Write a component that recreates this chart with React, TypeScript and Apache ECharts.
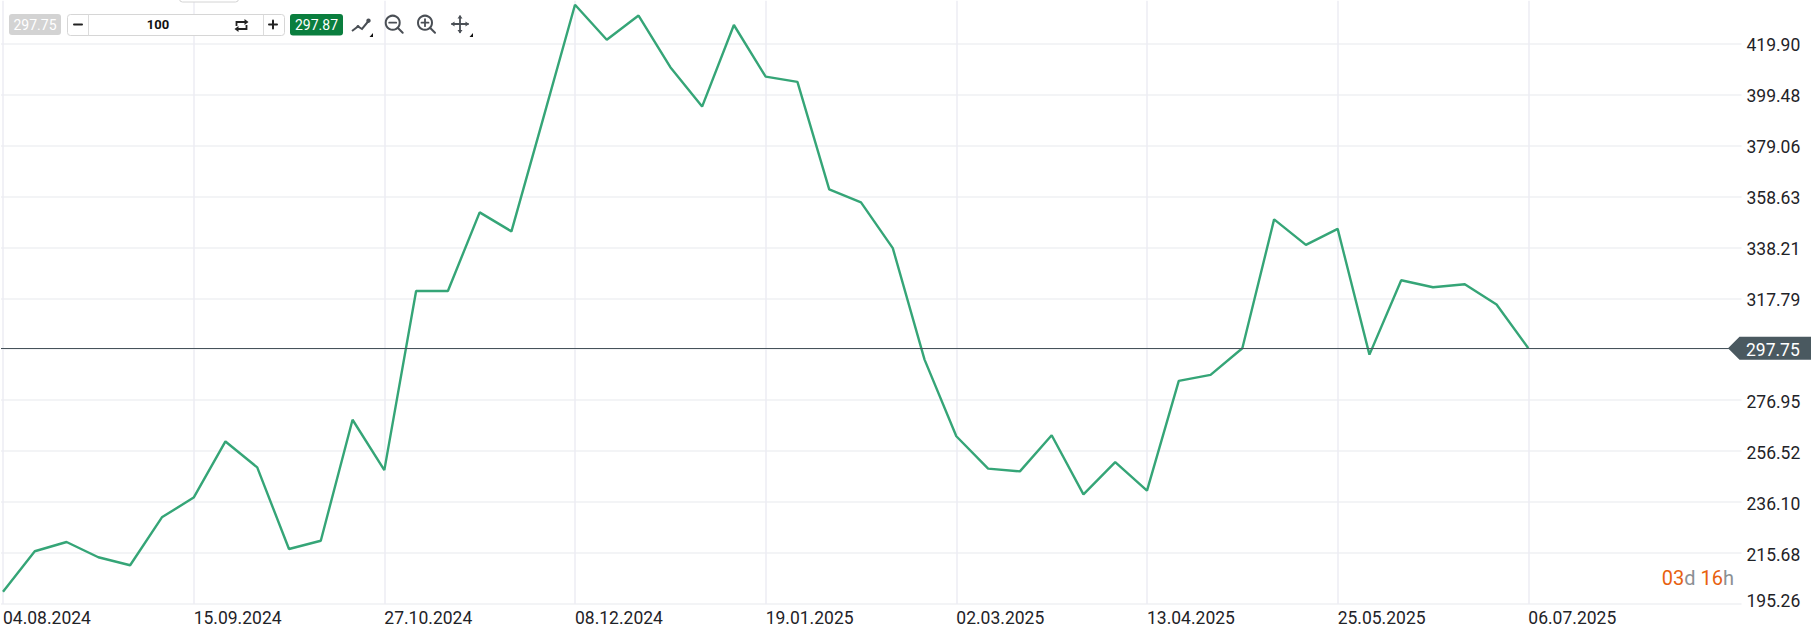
import React, { useEffect, useRef } from "react";
import * as echarts from "echarts";

const closes = [
  200.2, 216.4, 220.1, 214.0, 210.8, 230.0, 237.9, 260.4, 250.0, 217.3, 220.6, 269.1, 248.9,
  320.7, 320.7, 352.2, 344.6, 389.9, 435.4, 421.4, 431.1, 410.4, 394.6, 427.3, 406.6, 404.5,
  361.4, 356.2, 337.9, 293.2, 262.5, 249.5, 248.4, 262.9, 239.2, 252.1, 240.7, 284.7, 287.1,
  297.75, 349.4, 339.2, 345.6, 295.2, 325.0, 322.2, 323.4, 315.3, 297.75,
];
const xTickWeeks = [0, 6, 12, 18, 24, 30, 36, 42, 48];
const xTickLabels = [
  "04.08.2024", "15.09.2024", "27.10.2024", "08.12.2024", "19.01.2025",
  "02.03.2025", "13.04.2025", "25.05.2025", "06.07.2025",
];
const yGridValues = [195.26, 215.68, 236.1, 256.52, 276.95, 297.37, 317.79, 338.21, 358.63, 379.06, 399.48, 419.9];
const yLabelValues = [195.26, 215.68, 236.1, 256.52, 276.95, 317.79, 338.21, 358.63, 379.06, 399.48, 419.9];
const lastPrice = 297.75;
const bidText = "297.75";
const askText = "297.87";
const quantityText = "100";

const FONT = "Roboto, sans-serif";
const TEXT = "#1f2328";
const ICON = "#4a4f55";

const Z = { z: 100, silent: true };

function txt(text: string, x: number, y: number, fill: string, size: number, weight = 400, align = "center") {
  return {
    type: "text", ...Z,
    style: { text, x, y, fill, font: `${weight} ${size}px ${FONT}`, textAlign: align, textVerticalAlign: "middle" },
  };
}
function ln(x1: number, y1: number, x2: number, y2: number, color = ICON, width = 2) {
  return { type: "line", ...Z, shape: { x1, y1, x2, y2 }, style: { stroke: color, lineWidth: width, lineCap: "round" } };
}
function poly(points: number[][], fill = ICON) {
  return { type: "polygon", ...Z, shape: { points }, style: { fill } };
}
function pl(points: number[][], color = ICON, width = 2) {
  return { type: "polyline", ...Z, shape: { points }, style: { stroke: color, lineWidth: width, fill: "none" } };
}
function box(x: number, y: number, width: number, height: number, fill: string, stroke?: string, r = 3) {
  return {
    type: "rect", ...Z,
    shape: { x, y, width, height, r },
    style: { fill, stroke: stroke ?? "none", lineWidth: stroke ? 1 : 0 },
  };
}
function magnifier(cx: number, cy: number, plus: boolean) {
  const items: any[] = [
    { type: "circle", ...Z, shape: { cx, cy, r: 7 }, style: { stroke: ICON, lineWidth: 2, fill: "none" } },
    ln(cx + 5, cy + 5, cx + 10, cy + 10),
    ln(cx - 3.5, cy, cx + 3.5, cy, ICON, 1.8),
  ];
  if (plus) items.push(ln(cx, cy - 3.5, cx, cy + 3.5, ICON, 1.8));
  return items;
}

function toolbar(): any[] {
  return [
    box(179.5, -6, 59, 8, "#fff", "#d4d4d4"),
    box(9, 14, 52, 21, "#d3d3d3"),
    txt(bidText, 35, 25, "#fff", 14),
    box(67.5, 14.5, 217, 21, "#fff", "#d6d6d6"),
    ln(88.5, 15, 88.5, 35, "#dcdcdc", 1),
    ln(263.5, 15, 263.5, 35, "#dcdcdc", 1),
    ln(74, 24.5, 82, 24.5, "#222", 2),
    txt(quantityText, 158, 24.5, "#111", 13, 700),
    pl([[236.5, 26], [236.5, 22], [245, 22]], "#222", 1.8),
    poly([[244.5, 19], [248.5, 22], [244.5, 25]], "#222"),
    pl([[246.5, 25], [246.5, 29], [238, 29]], "#222", 1.8),
    poly([[238.5, 26], [234.5, 29], [238.5, 32]], "#222"),
    ln(269, 24.5, 277, 24.5, "#222", 2),
    ln(273, 20.5, 273, 28.5, "#222", 2),
    box(290, 14, 53, 21.5, "#0a7e3e"),
    txt(askText, 316.5, 25, "#fff", 14),
    pl([[352, 31], [358, 26.5], [362, 29], [368.5, 21]], ICON, 2),
    { type: "circle", ...Z, shape: { cx: 368.5, cy: 20.7, r: 2.2 }, style: { fill: ICON } },
    { type: "circle", ...Z, shape: { cx: 358, cy: 26.5, r: 1.5 }, style: { fill: ICON } },
    poly([[373, 33], [373, 37], [369.5, 37]], "#111"),
    ...magnifier(392.7, 22.7, false),
    ...magnifier(425, 22.7, true),
    ln(452, 24, 468, 24, ICON, 1.8),
    ln(460, 16.5, 460, 32, ICON, 1.8),
    poly([[460, 15], [457.5, 18.5], [462.5, 18.5]]),
    poly([[460, 33.5], [457.5, 30], [462.5, 30]]),
    poly([[451, 24], [454.5, 21.5], [454.5, 26.5]]),
    poly([[469, 24], [465.5, 21.5], [465.5, 26.5]]),
    poly([[473, 33], [473, 37], [469.5, 37]], "#111"),
  ];
}

export default function App() {
  const ref = useRef<HTMLDivElement>(null);
  useEffect(() => {
    document.body.style.margin = "0";
    document.body.style.background = "#fff";
    const chart = echarts.init(ref.current!, undefined, { renderer: "svg" });
    chart.setOption({
      animation: false,
      backgroundColor: "#ffffff",
      textStyle: { fontFamily: FONT },
      grid: { left: 0, right: 69.5, top: 0.7, height: 606.3, containLabel: false },
      xAxis: {
        type: "value",
        min: -0.0629,
        max: 54.708,
        axisLine: { show: false },
        axisTick: { show: false, customValues: xTickWeeks },
        splitLine: { show: true, lineStyle: { color: "#ecedf3", width: 1.5 } },
        axisLabel: {
          customValues: xTickWeeks,
          align: "left",
          margin: 5,
          fontSize: 17.5,
          fontFamily: FONT,
          color: TEXT,
          formatter: (v: number) => xTickLabels[xTickWeeks.indexOf(Math.round(v))] ?? "",
        },
      },
      yAxis: {
        type: "value",
        position: "right",
        min: 195.26,
        max: 437.04,
        axisLine: { show: false },
        axisTick: { show: false, customValues: yGridValues },
        splitLine: { show: true, lineStyle: { color: "#eff0f3", width: 1.5 } },
        axisLabel: {
          customValues: yLabelValues,
          margin: 5,
          fontSize: 17.5,
          fontFamily: FONT,
          color: TEXT,
          formatter: (v: number) => (v === yLabelValues[0] ? `{low|${v.toFixed(2)}}` : `{mid|${v.toFixed(2)}}`),
          rich: {
            low: { fontSize: 17.5, fontFamily: FONT, color: TEXT, padding: [0, 0, 7, 0] },
            mid: { fontSize: 17.5, fontFamily: FONT, color: TEXT, padding: [3, 0, 0, 0] },
          },
        },
      },
      series: [
        {
          type: "line",
          data: closes.map((v, i) => [i, v]),
          showSymbol: false,
          symbol: "none",
          clip: false,
          lineStyle: { color: "#35a577", width: 2.4 },
          markLine: {
            silent: true,
            symbol: "none",
            label: { show: false },
            lineStyle: { color: "#46525a", width: 1, type: "solid" },
            data: [{ yAxis: lastPrice }],
          },
        },
      ],
    });
    const tagY = chart.convertToPixel({ yAxisIndex: 0 }, lastPrice) as number;
    chart.setOption({
      graphic: {
        elements: [
          ...toolbar(),
          poly(
            [[1728, tagY], [1739.5, tagY - 11.5], [1811, tagY - 11.5], [1811, tagY + 11.5], [1739.5, tagY + 11.5]],
            "#4a5960",
          ),
          txt(lastPrice.toFixed(2), 1746, tagY + 1.5, "#ffffff", 17.5, 400, "left"),
          {
            type: "text",
            ...Z,
            style: {
              x: 1734,
              y: 578,
              textAlign: "right",
              textVerticalAlign: "middle",
              text: "{o|03}{g|d} {o|16}{g|h}",
              font: `400 20px ${FONT}`,
              rich: {
                o: { fill: "#e8610f", font: `400 20px ${FONT}` },
                g: { fill: "#8b9094", font: `400 20px ${FONT}` },
              },
            },
          },
        ],
      },
    });
    return () => chart.dispose();
  }, []);
  return <div ref={ref} style={{ position: "fixed", left: 0, top: 0, width: 1811, height: 627 }} />;
}
